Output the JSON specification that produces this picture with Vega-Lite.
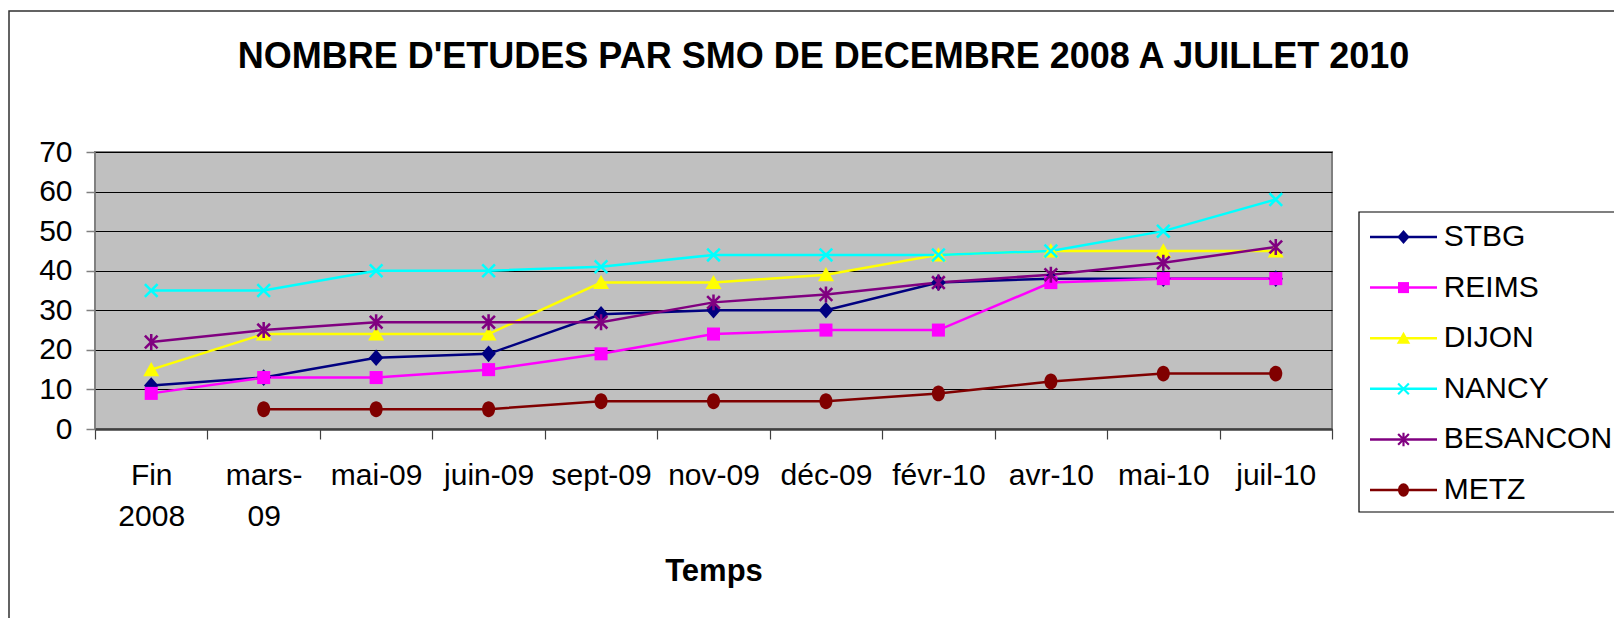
{
  "$schema": "https://vega.github.io/schema/vega-lite/v6.json",
  "width": 1237,
  "height": 277,
  "autosize": {"type": "none"},
  "padding": {"left": 95, "top": 152, "right": 282, "bottom": 189},
  "background": "white",
  "title": {
    "text": "NOMBRE D'ETUDES PAR SMO DE DECEMBRE 2008 A JUILLET 2010",
    "font": "Liberation Sans",
    "fontSize": 36,
    "fontWeight": "bold",
    "color": "black",
    "anchor": "middle",
    "frame": "group",
    "dx": 110,
    "offset": -66
  },
  "datasets": {
    "series": [
      {"ville": "STBG", "mois": "Fin 2008", "t": 0, "n": 11},
      {"ville": "STBG", "mois": "mars-09", "t": 1, "n": 13},
      {"ville": "STBG", "mois": "mai-09", "t": 2, "n": 18},
      {"ville": "STBG", "mois": "juin-09", "t": 3, "n": 19},
      {"ville": "STBG", "mois": "sept-09", "t": 4, "n": 29},
      {"ville": "STBG", "mois": "nov-09", "t": 5, "n": 30},
      {"ville": "STBG", "mois": "déc-09", "t": 6, "n": 30},
      {"ville": "STBG", "mois": "févr-10", "t": 7, "n": 37},
      {"ville": "STBG", "mois": "avr-10", "t": 8, "n": 38},
      {"ville": "STBG", "mois": "mai-10", "t": 9, "n": 38},
      {"ville": "STBG", "mois": "juil-10", "t": 10, "n": 38},
      {"ville": "REIMS", "mois": "Fin 2008", "t": 0, "n": 9},
      {"ville": "REIMS", "mois": "mars-09", "t": 1, "n": 13},
      {"ville": "REIMS", "mois": "mai-09", "t": 2, "n": 13},
      {"ville": "REIMS", "mois": "juin-09", "t": 3, "n": 15},
      {"ville": "REIMS", "mois": "sept-09", "t": 4, "n": 19},
      {"ville": "REIMS", "mois": "nov-09", "t": 5, "n": 24},
      {"ville": "REIMS", "mois": "déc-09", "t": 6, "n": 25},
      {"ville": "REIMS", "mois": "févr-10", "t": 7, "n": 25},
      {"ville": "REIMS", "mois": "avr-10", "t": 8, "n": 37},
      {"ville": "REIMS", "mois": "mai-10", "t": 9, "n": 38},
      {"ville": "REIMS", "mois": "juil-10", "t": 10, "n": 38},
      {"ville": "DIJON", "mois": "Fin 2008", "t": 0, "n": 15},
      {"ville": "DIJON", "mois": "mars-09", "t": 1, "n": 24},
      {"ville": "DIJON", "mois": "mai-09", "t": 2, "n": 24},
      {"ville": "DIJON", "mois": "juin-09", "t": 3, "n": 24},
      {"ville": "DIJON", "mois": "sept-09", "t": 4, "n": 37},
      {"ville": "DIJON", "mois": "nov-09", "t": 5, "n": 37},
      {"ville": "DIJON", "mois": "déc-09", "t": 6, "n": 39},
      {"ville": "DIJON", "mois": "févr-10", "t": 7, "n": 44},
      {"ville": "DIJON", "mois": "avr-10", "t": 8, "n": 45},
      {"ville": "DIJON", "mois": "mai-10", "t": 9, "n": 45},
      {"ville": "DIJON", "mois": "juil-10", "t": 10, "n": 45},
      {"ville": "NANCY", "mois": "Fin 2008", "t": 0, "n": 35},
      {"ville": "NANCY", "mois": "mars-09", "t": 1, "n": 35},
      {"ville": "NANCY", "mois": "mai-09", "t": 2, "n": 40},
      {"ville": "NANCY", "mois": "juin-09", "t": 3, "n": 40},
      {"ville": "NANCY", "mois": "sept-09", "t": 4, "n": 41},
      {"ville": "NANCY", "mois": "nov-09", "t": 5, "n": 44},
      {"ville": "NANCY", "mois": "déc-09", "t": 6, "n": 44},
      {"ville": "NANCY", "mois": "févr-10", "t": 7, "n": 44},
      {"ville": "NANCY", "mois": "avr-10", "t": 8, "n": 45},
      {"ville": "NANCY", "mois": "mai-10", "t": 9, "n": 50},
      {"ville": "NANCY", "mois": "juil-10", "t": 10, "n": 58},
      {"ville": "BESANCON", "mois": "Fin 2008", "t": 0, "n": 22},
      {"ville": "BESANCON", "mois": "mars-09", "t": 1, "n": 25},
      {"ville": "BESANCON", "mois": "mai-09", "t": 2, "n": 27},
      {"ville": "BESANCON", "mois": "juin-09", "t": 3, "n": 27},
      {"ville": "BESANCON", "mois": "sept-09", "t": 4, "n": 27},
      {"ville": "BESANCON", "mois": "nov-09", "t": 5, "n": 32},
      {"ville": "BESANCON", "mois": "déc-09", "t": 6, "n": 34},
      {"ville": "BESANCON", "mois": "févr-10", "t": 7, "n": 37},
      {"ville": "BESANCON", "mois": "avr-10", "t": 8, "n": 39},
      {"ville": "BESANCON", "mois": "mai-10", "t": 9, "n": 42},
      {"ville": "BESANCON", "mois": "juil-10", "t": 10, "n": 46},
      {"ville": "METZ", "mois": "mars-09", "t": 1, "n": 5},
      {"ville": "METZ", "mois": "mai-09", "t": 2, "n": 5},
      {"ville": "METZ", "mois": "juin-09", "t": 3, "n": 5},
      {"ville": "METZ", "mois": "sept-09", "t": 4, "n": 7},
      {"ville": "METZ", "mois": "nov-09", "t": 5, "n": 7},
      {"ville": "METZ", "mois": "déc-09", "t": 6, "n": 7},
      {"ville": "METZ", "mois": "févr-10", "t": 7, "n": 9},
      {"ville": "METZ", "mois": "avr-10", "t": 8, "n": 12},
      {"ville": "METZ", "mois": "mai-10", "t": 9, "n": 14},
      {"ville": "METZ", "mois": "juil-10", "t": 10, "n": 14}
    ],
    "villes": [
      {"ville": "STBG"},
      {"ville": "REIMS"},
      {"ville": "DIJON"},
      {"ville": "NANCY"},
      {"ville": "BESANCON"},
      {"ville": "METZ"}
    ],
    "cadre": [{"cadre": "cadre"}]
  },
  "resolve": {
    "scale": {"x": "independent", "y": "independent"},
    "axis": {"x": "independent", "y": "independent"}
  },
  "layer": [
    {
      "data": {"name": "cadre"},
      "mark": {"type": "rect", "filled": false, "stroke": "#303030", "strokeWidth": 1.5},
      "encoding": {
        "x": {"datum": 0, "type": "quantitative", "scale": {"domain": [0, 1], "range": [-86, 3000], "zero": false, "nice": false}, "axis": null},
        "x2": {"datum": 1},
        "y": {"datum": 0, "type": "quantitative", "scale": {"domain": [0, 1], "range": [-141, 1200], "zero": false, "nice": false}, "axis": null},
        "y2": {"datum": 1}
      }
    },
    {
      "data": {"name": "series"},
      "mark": {"type": "line", "strokeWidth": 2.5},
      "encoding": {
        "x": {
          "field": "mois",
          "type": "ordinal",
          "sort": ["Fin 2008", "mars-09", "mai-09", "juin-09", "sept-09", "nov-09", "déc-09", "févr-10", "avr-10", "mai-10", "juil-10"],
          "scale": {"type": "band", "paddingInner": 0, "paddingOuter": 0},
          "axis": {
            "title": "Temps",
            "titleFont": "Liberation Sans",
            "titleFontSize": 31,
            "titleFontWeight": "bold",
            "titleColor": "black",
            "titleBaseline": "alphabetic",
            "titleY": 151,
            "labelAngle": 0,
            "labelFont": "Liberation Sans",
            "labelFontSize": 30,
            "labelColor": "black",
            "labelPadding": 21,
            "labelLineHeight": 41,
            "labelOverlap": false,
            "labelExpr": "datum.label == 'Fin 2008' ? ['Fin', '2008'] : datum.label == 'mars-09' ? ['mars-', '09'] : datum.label",
            "tickBand": "extent",
            "ticks": true,
            "tickSize": 10,
            "tickColor": "#404040",
            "tickWidth": 1.2,
            "domainColor": "#404040",
            "domainWidth": 2.5,
            "grid": false
          }
        },
        "y": {
          "field": "n",
          "type": "quantitative",
          "scale": {"domain": [0, 70], "nice": false},
          "axis": {
            "title": null,
            "values": [0, 10, 20, 30, 40, 50, 60, 70],
            "grid": true,
            "gridColor": "black",
            "gridWidth": 1,
            "gridOpacity": 1,
            "domain": false,
            "ticks": true,
            "tickSize": 9,
            "tickColor": "#808080",
            "tickWidth": 1.5,
            "labelFont": "Liberation Sans",
            "labelFontSize": 30,
            "labelColor": "black",
            "labelPadding": 14
          }
        },
        "order": {"field": "t", "type": "quantitative"},
        "color": {
          "field": "ville",
          "type": "nominal",
          "scale": {
            "domain": ["STBG", "REIMS", "DIJON", "NANCY", "BESANCON", "METZ"],
            "range": ["#000080", "#FF00FF", "#FFFF00", "#00FFFF", "#800080", "#800000"]
          },
          "legend": null
        }
      }
    },
    {
      "data": {"name": "series"},
      "mark": {"type": "point", "filled": true, "size": 210, "opacity": 1, "strokeWidth": 0},
      "encoding": {
        "x": {
          "field": "mois",
          "type": "ordinal",
          "sort": ["Fin 2008", "mars-09", "mai-09", "juin-09", "sept-09", "nov-09", "déc-09", "févr-10", "avr-10", "mai-10", "juil-10"],
          "scale": {"type": "band", "paddingInner": 0, "paddingOuter": 0},
          "axis": null
        },
        "y": {
          "field": "n",
          "type": "quantitative",
          "scale": {"domain": [0, 70], "nice": false},
          "axis": null
        },
        "color": {"field": "ville", "type": "nominal", "legend": null},
        "shape": {
          "field": "ville",
          "type": "nominal",
          "scale": {
            "domain": ["STBG", "REIMS", "DIJON", "NANCY", "BESANCON", "METZ"],
            "range": [
              "M0,-1.15L1,0L0,1.15L-1,0Z",
              "M-0.9,-0.9L0.9,-0.9L0.9,0.9L-0.9,0.9Z",
              "M0,-1.05L1.1,0.9L-1.1,0.9Z",
              "M-0.75,-1L1,0.75L0.75,1L-1,-0.75ZM0.75,-1L1,-0.75L-0.75,1L-1,0.75Z",
              "M-0.75,-1L1,0.75L0.75,1L-1,-0.75ZM0.75,-1L1,-0.75L-0.75,1L-1,0.75ZM-0.175,-1.1L0.175,-1.1L0.175,1.1L-0.175,1.1Z",
              "M-0.9,0A0.9,1.1 0 1,1 0.9,0A0.9,1.1 0 1,1 -0.9,0Z"
            ]
          },
          "legend": null
        }
      }
    },
    {
      "data": {"name": "cadre"},
      "mark": {"type": "rect", "fill": "white", "stroke": "black", "strokeWidth": 1.2},
      "encoding": {
        "x": {"datum": 0, "type": "quantitative", "scale": {"domain": [0, 1], "range": [1264, 3000], "zero": false, "nice": false}, "axis": null},
        "x2": {"datum": 1},
        "y": {"datum": 0, "type": "quantitative", "scale": {"domain": [0, 1], "range": [60, 360], "zero": false, "nice": false}, "axis": null},
        "y2": {"datum": 1}
      }
    },
    {
      "data": {"name": "villes"},
      "mark": {"type": "rule", "strokeWidth": 2.5},
      "encoding": {
        "x": {"datum": 0, "type": "quantitative", "scale": {"domain": [0, 1], "range": [1275, 1342], "zero": false, "nice": false}, "axis": null},
        "x2": {"datum": 1},
        "y": {"field": "ville", "type": "nominal", "sort": ["STBG", "REIMS", "DIJON", "NANCY", "BESANCON", "METZ"], "scale": {"type": "point", "range": [85, 338], "padding": 0}, "axis": null},
        "color": {"field": "ville", "type": "nominal", "legend": null}
      }
    },
    {
      "data": {"name": "villes"},
      "mark": {"type": "point", "filled": true, "size": 150, "opacity": 1, "strokeWidth": 0},
      "encoding": {
        "x": {"datum": 0.5, "type": "quantitative", "scale": {"domain": [0, 1], "range": [1275, 1342], "zero": false, "nice": false}, "axis": null},
        "y": {"field": "ville", "type": "nominal", "sort": ["STBG", "REIMS", "DIJON", "NANCY", "BESANCON", "METZ"], "scale": {"type": "point", "range": [85, 338], "padding": 0}, "axis": null},
        "color": {"field": "ville", "type": "nominal", "legend": null},
        "shape": {"field": "ville", "type": "nominal", "legend": null}
      }
    },
    {
      "data": {"name": "villes"},
      "mark": {"type": "text", "align": "left", "baseline": "middle", "font": "Liberation Sans", "fontSize": 30, "color": "black"},
      "encoding": {
        "x": {"datum": 1.1, "type": "quantitative", "scale": {"domain": [0, 1], "range": [1275, 1342], "zero": false, "nice": false}, "axis": null},
        "y": {"field": "ville", "type": "nominal", "sort": ["STBG", "REIMS", "DIJON", "NANCY", "BESANCON", "METZ"], "scale": {"type": "point", "range": [85, 338], "padding": 0}, "axis": null},
        "text": {"field": "ville"}
      }
    }
  ],
  "config": {
    "font": "Liberation Sans",
    "view": {"stroke": "#808080", "strokeWidth": 2, "fill": "#C0C0C0"}
  }
}
